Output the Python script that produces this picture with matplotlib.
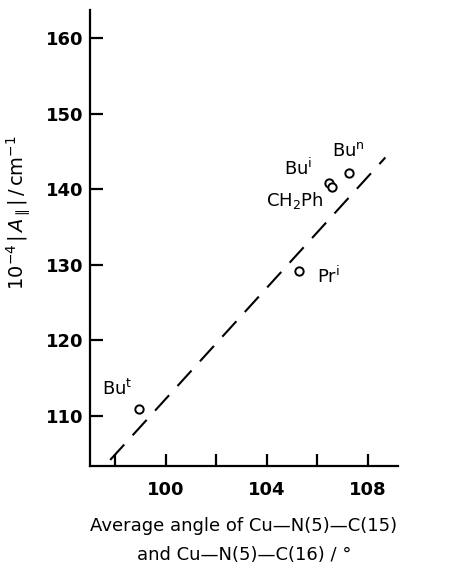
import matplotlib
matplotlib.use("Agg")
import matplotlib.pyplot as plt

# Data
labels = ["Bu$^{\\mathrm{t}}$", "Pr$^{\\mathrm{i}}$", "Bu$^{\\mathrm{i}}$", "CH$_2$Ph", "Bu$^{\\mathrm{n}}$"]
angles = [98.95, 105.27, 106.45, 106.6, 107.25]
a_par = [110.9, 129.2, 140.8, 140.3, 142.1]
fit_x = [97.8, 108.7]
fit_y = [104.2, 144.2]
xticks = [98, 100, 102, 104, 106, 108]
xticklabels = ["", "100", "", "104", "", "108"]
yticks = [110, 120, 130, 140, 150, 160]

plt.rcParams['font.family'] = ['DejaVu Sans']
plt.rcParams['mathtext.fontset'] = 'dejavusans'

fig = plt.figure(figsize=(4.52, 5.64), dpi=100)
ax = fig.add_axes([90/452, 1-466/564, (398-90)/452, (466-10)/564])

ax.plot(fit_x, fit_y, color='black', lw=1.5, dashes=(10, 6))
ax.plot(angles, a_par, 'o', mfc='white', mec='black', ms=6, mew=1.4, zorder=3)

# point labels
offsets = {0: (-27, 15), 1: (13, -4), 2: (-32, 11), 3: (-48, -10), 4: (-12, 16)}
for i, lab in enumerate(labels):
    dx, dy = offsets[i]
    ax.annotate(lab, (angles[i], a_par[i]), xytext=(dx, dy), textcoords='offset points',
                fontsize=13, ha='left', va='center')

ax.set_xlim(97.0, 109.2)
ax.set_ylim(103.4, 163.7)
ax.set_xticks(xticks)
ax.set_xticklabels(xticklabels)
ax.set_yticks(yticks)

for s in ['top', 'right']:
    ax.spines[s].set_visible(False)
for s in ['left', 'bottom']:
    ax.spines[s].set_linewidth(1.6)

ax.tick_params(direction='in', length=9, width=1.6, labelsize=13, pad=11)
ax.tick_params(axis='y', pad=5)
for t in ax.get_xticklabels() + ax.get_yticklabels():
    t.set_fontweight('bold')

ax.set_xlabel("Average angle of Cu\u2014N(5)\u2014C(15)\nand Cu\u2014N(5)\u2014C(16) / \u00b0",
              fontsize=13, linespacing=1.75, labelpad=13)
ax.set_ylabel(r"$10^{-4}\,|\,A_{\parallel}|\,/\,\mathrm{cm}^{-1}$", fontsize=14)
ax.yaxis.set_label_coords(-0.185, 0.555)

fig.savefig("out.png", dpi=100)
